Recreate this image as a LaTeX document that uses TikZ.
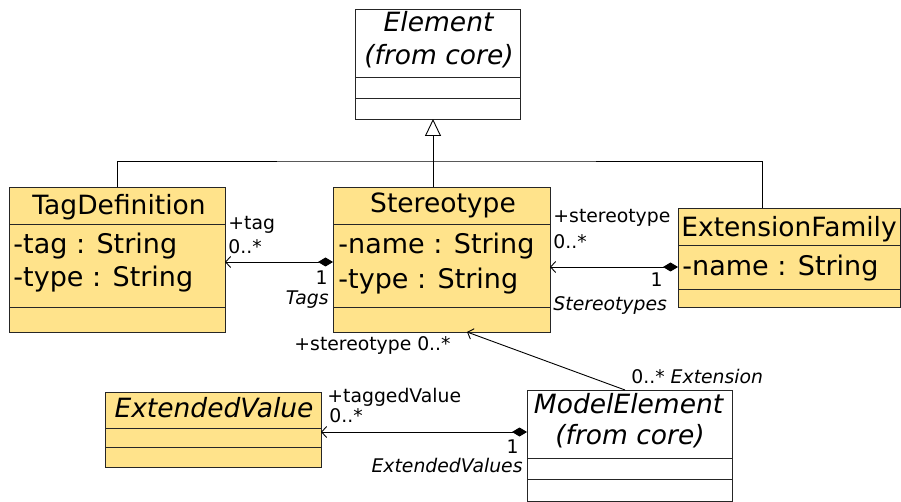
\documentclass[tikz,border=0pt]{standalone}
\usepackage{fontspec}
\setmainfont{DejaVu Sans}
\usetikzlibrary{arrows.meta}
\definecolor{classfill}{HTML}{FFE38B}

\begin{document}
\begin{tikzpicture}[x=1pt,y=-1pt,line width=0.9pt,
  cls/.style={draw=black!85,fill=classfill,anchor=north west,inner sep=0pt,outer sep=0pt},
  core/.style={cls,fill=white},
  cname/.style={anchor=base,inner sep=0pt,font=\fontsize{26.5}{30}\selectfont},
  attr/.style={anchor=base west,inner sep=0pt,font=\fontsize{27}{30}\selectfont},
  lbl/.style={inner sep=0pt,font=\fontsize{18.8}{22}\selectfont},
  comp/.style={{Diamond[length=15pt,width=9pt]}-{Straight Barb[length=5pt,width=11pt]}},
  nav/.style={-{Straight Barb[length=5pt,width=11pt]}},
  gen/.style={-{Triangle[open,length=17pt,width=16pt,fill=white]}}]
  \useasboundingbox (0,0) rectangle (901,502);

  % classes
  \node[core, minimum width=165pt, minimum height=110pt] (element) at (355,9) {};
  \node[cls, minimum width=216pt, minimum height=145pt] (tagdef) at (9,187) {};
  \node[cls, minimum width=217pt, minimum height=145pt] (stereo) at (333,187) {};
  \node[cls, minimum width=222pt, minimum height=99pt] (extfam) at (678,208) {};
  \node[cls, minimum width=216pt, minimum height=75pt] (extval) at (105,392) {};
  \node[core, minimum width=205pt, minimum height=111pt] (modelel) at (527,390) {};

  % compartments
  \foreach \n/\a/\b in {element/68/89, tagdef/37/120, stereo/37/120,
                        extfam/37/81, extval/36/55, modelel/68/89}
  {
    \draw[black!85] ([yshift=-\a pt]\n.north west) -- ([yshift=-\a pt]\n.north east);
    \draw[black!85] ([yshift=-\b pt]\n.north west) -- ([yshift=-\b pt]\n.north east);
  }

  % names and attributes
  \node[cname] (elementname) at (439,32) {\textit{Element}};
  \node[cname] (elementcore) at (439,65) {\textit{(from core)}};
  \node[cname] (tagdefname) at (119,215) {TagDefinition};
  \node[attr] (tagattr) at (13,254) {-tag : String};
  \node[attr] (tagtype) at (13,287) {-type : String};
  \node[cname] (stereoname) at (443,213) {Stereotype};
  \node[attr] (stereoattr) at (338,254) {-name : String};
  \node[attr] (stereotype) at (338,288) {-type : String};
  \node[cname] (extfamname) at (789,237) {ExtensionFamily};
  \node[attr] (extfamattr) at (682,276) {-name : String};
  \node[cname] (extvalname) at (214,417) {\textit{ExtendedValue}};
  \node[cname] (modelelname) at (629,413) {\textit{ModelElement}};
  \node[cname] (modelelcore) at (630,444) {\textit{(from core)}};

  % generalization
  \coordinate (genjoin) at (433,161);
  \draw (tagdef.north) |- (genjoin) -| ([xshift=-27pt]extfam.north);
  \draw (genjoin) -- (genjoin |- stereo.north);
  \draw[gen] (genjoin) -- (genjoin |- element.south);

  % associations
  \draw[comp] ([yshift=-2.5pt]stereo.west) -- ([yshift=-2.5pt]stereo.west -| tagdef.east);
  \draw[comp] ([yshift=-9.5pt]extfam.west) -- ([yshift=-9.5pt]extfam.west -| stereo.east);
  \draw[comp] ([yshift=13.5pt]modelel.west) -- ([yshift=13.5pt]modelel.west -| extval.east);
  \draw[nav] ([xshift=-4.5pt]modelel.north) -- ([xshift=25.5pt]stereo.south);

  % role labels
  \node[lbl, anchor=base west] (tagrole) at (228,230) {+tag};
  \node[lbl, anchor=base west] (tagmult) at (228,254) {0..*};
  \node[lbl, anchor=base east] (tagone) at (328,285) {1};
  \node[lbl, anchor=base east] (tagsname) at (329,304) {\textit{Tags}};
  \node[lbl, anchor=base west] (strole) at (553,223) {+stereotype};
  \node[lbl, anchor=base west] (stmult) at (553,249) {0..*};
  \node[lbl, anchor=base east] (stone) at (663,287) {1};
  \node[lbl, anchor=base west] (stname) at (553,310) {\textit{Stereotypes}};
  \node[lbl, anchor=base west] (extrole) at (294,350) {+stereotype 0..*};
  \node[lbl, anchor=base west] (extname) at (631,383) {0..* \textit{Extension}};
  \node[lbl, anchor=base west] (tvrole) at (327,402) {+taggedValue};
  \node[lbl, anchor=base west] (tvmult) at (329,422) {0..*};
  \node[lbl, anchor=base east] (tvone) at (519,453) {1};
  \node[lbl, anchor=base east] (tvname) at (523,472) {\textit{ExtendedValues}};
\end{tikzpicture}
\end{document}
